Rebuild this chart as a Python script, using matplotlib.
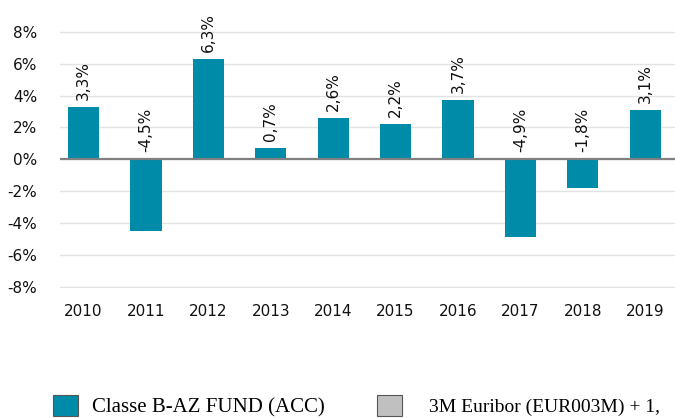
import matplotlib
matplotlib.use("Agg")
import matplotlib.pyplot as plt
from matplotlib.patches import Patch

plt.rcParams["font.family"] = ["DejaVu Sans"]

years = ["2010", "2011", "2012", "2013", "2014", "2015", "2016", "2017", "2018", "2019"]
fund = [3.3, -4.5, 6.3, 0.7, 2.6, 2.2, 3.7, -4.9, -1.8, 3.1]
yticks = [-8, -6, -4, -2, 0, 2, 4, 6, 8]
series_names = ["Classe B-AZ FUND (ACC)", "3M Euribor (EUR003M) + 1,"]

teal = "#008BA8"
grey = "#C0C0C0"

W, H = 675, 418
fig = plt.figure(figsize=(W / 100, H / 100), dpi=100)
ax = fig.add_axes([60 / W, 1 - 287.7 / H, 1 - 60 / W, (287.7 - 31) / H])

x = list(range(len(years)))
ax.bar(x, fund, width=0.5, color=teal, zorder=3)
for xi, v in zip(x, fund):
    ax.annotate(f"{v:.1f}".replace(".", ",") + "%", (xi, max(v, 0)),
                xytext=(0, 5), textcoords="offset points", rotation=90,
                ha="center", va="bottom", fontsize=11, color="#111111")

ax.set_xlim(-0.376, 9.476)
ax.set_ylim(-8.05, 8.05)
ax.set_yticks(yticks)
ax.set_yticklabels([f"{t}%" for t in yticks])
ax.set_xticks(x)
ax.set_xticklabels(years)
for s in ax.spines.values():
    s.set_visible(False)
ax.tick_params(axis="both", length=0, labelsize=11, colors="#111111")
ax.tick_params(axis="y", pad=16.5)
ax.tick_params(axis="x", pad=12)
ax.grid(axis="y", color="#e3e3e3", linewidth=1, zorder=0)
ax.axhline(0, color="#808080", linewidth=1.6, zorder=4)
ax.set_axisbelow(True)

legend_kw = dict(loc="upper left", frameon=False, borderaxespad=0, borderpad=0)
h1 = Patch(facecolor=teal, edgecolor="#555555", linewidth=0.8)
h2 = Patch(facecolor=grey, edgecolor="#555555", linewidth=0.8)
fig.legend([h1], [series_names[0]], bbox_to_anchor=(53 / W, 1 - 395 / H),
           prop={"family": "Liberation Serif", "size": 15},
           handlelength=1.2, handleheight=1.2, handletextpad=0.65, **legend_kw)
fig.legend([h2], [series_names[1]], bbox_to_anchor=(377 / W, 1 - 395 / H),
           prop={"family": "Liberation Serif", "size": 14},
           handlelength=1.28, handleheight=1.28, handletextpad=1.4, **legend_kw)

fig.savefig("out.png", dpi=100)
